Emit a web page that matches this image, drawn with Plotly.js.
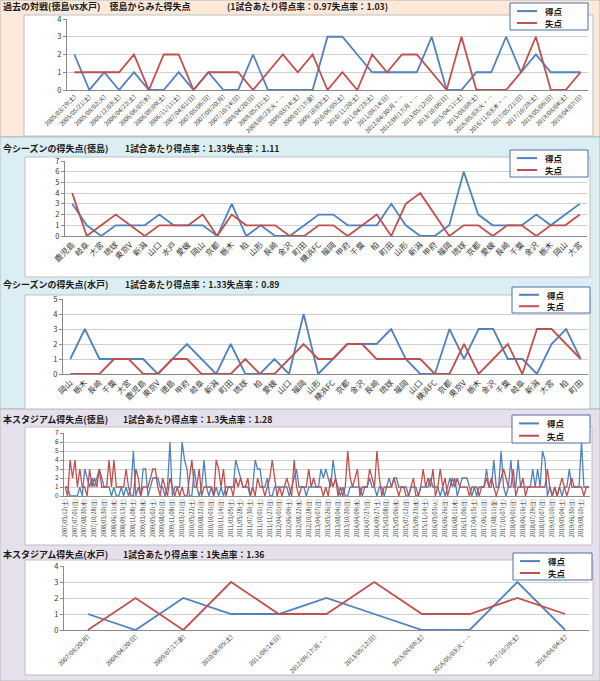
<!DOCTYPE html>
<html><head><meta charset="utf-8">
<script src="https://cdn.plot.ly/plotly-3.0.1.min.js"></script>
<style>html,body{margin:0;padding:0;background:#fff}#chart{width:600px;height:681px}</style>
</head><body><div id="chart"></div>
<script>
// ---------- Panel 1: 過去の対戦 (徳島 vs 水戸) ----------
const h2hDates = ["2005/03/19(土)","2005/05/21(土)","2005/08/02(火)","2005/12/03(土)","2006/04/22(土)","2006/06/07(水)","2006/09/09(土)","2006/11/11(土)","2007/04/01(日)","2007/05/06(日)","2007/08/20(月)","2007/10/14(日)","2008/04/20(日)","2008/05/31(土)","2008/09/23(火・…","2009/03/14(土)","2009/07/17(金)","2009/10/03(土)","2010/06/05(土)","2010/11/20(土)","2011/04/23(土)","2011/08/14(日)","2012/04/30(月・…","2012/09/17(月・…","2013/05/12(日)","2013/10/06(日)","2015/04/11(土)","2015/08/08(土)","2016/05/03(火・…","2016/11/03(木・…","2017/05/21(日)","2017/10/28(土)","2018/05/06(日)","2018/08/04(土)","2019/04/07(日)"];
const h2hScored    = [2,0,1,0,1,0,0,1,0,1,0,0,2,0,0,0,0,3,3,2,1,1,1,1,3,0,0,1,1,3,1,2,1,1,1];
const h2hConceded  = [1,1,1,1,2,0,2,2,0,1,1,1,0,1,2,1,2,0,1,0,2,1,2,2,1,0,3,0,0,0,1,3,0,0,1];

// ---------- Panel 2: 今シーズンの得失点 (徳島) ----------
const tokuTeams = ["鹿児島","岐阜","大宮","琉球","東京V","新潟","山口","水戸","愛媛","岡山","京都","栃木","柏","山形","長崎","金沢","町田","横浜FC","福岡","甲府","千葉","柏","町田","山形","新潟","甲府","福岡","琉球","京都","愛媛","長崎","千葉","金沢","栃木","岡山","大宮"];
const tokuScored   = [3,1,0,1,1,1,2,1,1,1,0,3,0,1,0,0,1,2,2,1,1,1,3,1,0,0,1,6,2,1,1,1,2,1,2,3];
const tokuConceded = [4,0,1,2,1,0,1,1,1,2,0,2,1,1,1,0,0,1,1,0,1,2,0,3,4,2,0,1,1,0,1,1,0,1,1,2];

// ---------- Panel 3: 今シーズンの得失点 (水戸) ----------
const mitoTeams = ["岡山","栃木","長崎","千葉","大宮","鹿児島","東京V","徳島","甲府","岐阜","新潟","町田","琉球","柏","愛媛","山口","福岡","山形","横浜FC","京都","金沢","長崎","琉球","福岡","山口","横浜FC","京都","東京V","栃木","金沢","千葉","岐阜","新潟","大宮","柏","町田"];
const mitoScored   = [1,3,1,1,1,1,0,1,2,1,0,2,0,0,1,0,4,0,1,2,2,2,3,1,0,0,3,1,3,3,1,1,0,2,3,1];
const mitoConceded = [0,0,0,1,1,0,0,1,1,0,0,0,1,0,0,1,2,1,1,2,2,1,1,1,1,0,0,2,0,1,2,0,3,3,2,1];

// ---------- Panel 4: 本スタジアム得失点 (徳島) ----------
const stadiumTickLabels = ["2007/05/12(土)","2007/07/01(日)","2007/08/30(木)","2007/10/28(日)","2008/03/30(日)","2008/06/11(水)","2008/09/13(土)","2008/11/08(土)","2009/03/18(水)","2009/05/02(土)","2009/08/02(日)","2009/11/08(日)","2010/03/21(日)","2010/05/22(土)","2010/08/22(日)","2010/10/03(日)","2010/11/14(日)","2011/03/05(土)","2011/05/28(土)","2011/07/30(土)","2011/10/01(土)","2011/11/27(日)","2012/04/01(日)","2012/06/09(土)","2012/08/22(水)","2012/10/28(日)","2013/04/07(日)","2013/05/26(日)","2013/08/04(日)","2013/10/20(日)","2014/04/09(水)","2014/07/27(日)","2014/09/27(土)","2015/03/08(日)","2015/05/06(水)","2015/07/12(日)","2015/09/23(水)","2015/11/14(土)","2016/05/03(火)","2016/06/26(日)","2016/08/11(木)","2016/11/06(日)","2017/04/15(土)","2017/06/11(日)","2017/08/11(金)","2017/10/07(土)","2018/04/01(日)","2018/06/16(土)","2018/07/29(日)","2018/10/07(日)","2019/03/10(日)","2019/05/04(土)","2019/06/30(日)","2019/08/10(土)"];
const stadiumScored = [
 1,1,0,0,0,0,1,0,3,2,1,2,1,2,3,2,1,1,1,0,1,0,0,1,
 0,1,0,1,5,0,1,0,3,3,0,1,2,2,2,1,1,0,1,6,0,1,1,1,
 6,4,3,0,0,3,1,0,1,4,1,0,1,0,1,0,1,0,1,1,1,1,4,3,
 2,1,1,1,0,1,4,3,3,1,1,2,0,0,1,1,1,1,1,1,0,1,2,3,
 1,1,1,0,1,1,1,1,1,3,2,3,2,1,4,2,1,0,1,0,0,1,1,1,
 1,1,0,1,1,2,1,1,0,1,1,0,1,2,1,2,2,1,1,1,1,0,1,1,
 1,0,1,1,1,1,2,1,1,1,0,1,0,1,2,1,2,0,1,2,2,2,1,0,
 1,0,1,1,1,3,1,1,4,1,1,5,1,0,1,4,1,1,4,1,1,1,1,1,
 3,1,3,1,5,4,0,1,0,1,0,1,0,1,1,3,1,1,1,1,6,1,1,1];
const stadiumConceded = [
 1,0,4,2,4,1,3,1,1,0,3,1,2,1,3,1,1,1,4,1,4,1,1,1,
 1,3,1,0,0,3,2,0,1,1,1,2,3,3,1,0,2,1,0,2,1,0,1,0,
 1,0,0,2,4,1,1,3,0,1,1,1,1,0,4,3,1,3,0,1,1,0,2,1,
 2,1,1,2,0,1,0,2,1,1,0,1,2,4,2,0,1,0,1,2,1,0,4,1,
 0,1,1,1,3,1,2,1,1,1,0,1,0,2,1,2,0,1,0,1,5,2,1,2,
 3,0,1,1,1,3,2,1,5,2,0,1,1,1,1,2,1,0,1,1,0,0,1,2,
 0,0,1,3,1,2,1,3,0,1,3,1,2,0,1,2,1,2,1,1,1,1,0,1,
 1,1,0,1,1,2,1,2,1,0,1,2,3,2,1,1,3,0,1,1,2,0,1,1,
 1,1,1,1,1,1,3,1,0,1,0,1,2,1,0,1,2,1,1,1,1,0,1,1];
const stadiumLabelEvery = 4;

// ---------- Panel 5: 本スタジアム得失点 (水戸) ----------
const mitoStadiumDates = ["2007/08/20(月)","2008/04/20(日)","2009/07/17(金)","2010/06/05(土)","2011/08/14(日)","2012/09/17(月・…","2013/05/12(日)","2015/08/08(土)","2016/05/03(火・…","2017/10/28(土)","2018/08/04(土)"];
const mitoStadiumScored   = [1,0,2,1,1,2,1,0,0,3,0];
const mitoStadiumConceded = [0,2,0,3,1,1,3,1,1,2,1];

const seriesNames = ["得点","失点"];
const titles = [
  ["過去の対戦(徳島vs水戸)　徳島からみた得失点", "(1試合あたり得点率：0.97失点率：1.03)"],
  ["今シーズンの得失点(徳島)", "1試合あたり得点率：1.33失点率：1.11"],
  ["今シーズンの得失点(水戸)", "1試合あたり得点率：1.33失点率：0.89"],
  ["本スタジアム得失点(徳島)", "1試合あたり得点率：1.3失点率：1.28"],
  ["本スタジアム得失点(水戸)", "1試合あたり得点率：1失点率：1.36"]
];

// ---------- Layout ----------
const W = 600, H = 681;
const FONT = '"Noto Sans CJK JP", "Noto Sans", sans-serif';
const BLUE = '#4F81BD', RED = '#C0504D';
const px = v => v / W, py = v => 1 - v / H;

const panels = [
  {labels: h2hDates, s: h2hScored, c: h2hConceded, plot:[67,588,19,90], ymax:4, angle:-45, tsize:6, ysize:7.5, every:1,
   chart:[24,15,593,136], title:[7,227], legend:[510,3,588,30]},
  {labels: tokuTeams, s: tokuScored, c: tokuConceded, plot:[65,587,161,236], ymax:7, angle:-45, tsize:8, ysize:7.5, every:1,
   chart:[25,157,590,277], title:[148,125], legend:[510,150,588,177]},
  {labels: mitoTeams, s: mitoScored, c: mitoConceded, plot:[63,588,299,374], ymax:5, angle:-45, tsize:8, ysize:7.5, every:1,
   chart:[25,295,590,409], title:[285,125], legend:[512,287,590,313]},
  {labels: stadiumTickLabels, s: stadiumScored, c: stadiumConceded, plot:[64,590,433,496], ymax:7, angle:-90, tsize:5.5, ysize:6.5, every:stadiumLabelEvery,
   chart:[25,427,592,545], title:[419,123], legend:[512,415,590,443]},
  {labels: mitoStadiumDates, s: mitoStadiumScored, c: mitoStadiumConceded, plot:[64,589,566,630], ymax:4, angle:-45, tsize:6, ysize:7.5, every:1,
   chart:[25,560,593,675], title:[554,123], legend:[513,553,592,580]}
];

const bands = [
  {y0:0, y1:137, color:'#FDE9D9'},
  {y0:137, y1:409, color:'#DAEEF3'},
  {y0:409, y1:681, color:'#E5E0EC'}
];

const traces = [];
const layout = {
  width: W, height: H, autosize: false,
  margin: {l:0, r:0, t:0, b:0},
  paper_bgcolor: '#ffffff', plot_bgcolor: '#ffffff',
  showlegend: false,
  font: {family: FONT, color: '#333'},
  shapes: [], annotations: []
};

bands.forEach(b => layout.shapes.push({type:'rect', xref:'paper', yref:'paper', layer:'below',
  x0:0, x1:1, y0:py(b.y1), y1:py(b.y0), fillcolor:b.color, line:{color:'#B7B7B7', width:1}}));

panels.forEach((p, k) => {
  const n = k + 1;
  const xa = n === 1 ? 'xaxis' : 'xaxis' + n;
  const ya = n === 1 ? 'yaxis' : 'yaxis' + n;
  const xr = n === 1 ? 'x' : 'x' + n;
  const yr = n === 1 ? 'y' : 'y' + n;
  const idx = p.s.map((_, i) => i);
  const tickvals = p.labels.map((_, j) => j * p.every);

  traces.push({type:'scatter', mode:'lines', name:seriesNames[0], x:idx, y:p.s, xaxis:xr, yaxis:yr,
    line:{color:BLUE, width: n === 4 ? 1.3 : 1.8}, hoverinfo:'skip'});
  traces.push({type:'scatter', mode:'lines', name:seriesNames[1], x:idx, y:p.c, xaxis:xr, yaxis:yr,
    line:{color:RED, width: n === 4 ? 1.3 : 1.8}, hoverinfo:'skip'});

  layout[xa] = {domain:[px(p.plot[0]), px(p.plot[1])], anchor:yr, range:[-0.5, p.s.length - 0.5],
    tickmode:'array', tickvals: tickvals, ticktext: p.labels, tickangle: p.angle,
    tickfont:{size:p.tsize, color:'#333', family:FONT}, showgrid:false, zeroline:false,
    showline:true, linecolor:'#8A8A8A', linewidth:1, ticks:'', fixedrange:true};
  layout[ya] = {domain:[py(p.plot[3]), py(p.plot[2])], anchor:xr, range:[0, p.ymax], dtick:1,
    tickfont:{size:p.ysize, color:'#333', family:FONT}, showgrid:true, gridcolor:'#CFCFCF', gridwidth:1,
    zeroline:false, showline:true, linecolor:'#8A8A8A', ticks:'outside', ticklen:3, tickcolor:'#8A8A8A', fixedrange:true};

  // chart object box
  layout.shapes.push({type:'rect', xref:'paper', yref:'paper', layer:'below',
    x0:px(p.chart[0]), x1:px(p.chart[2]), y0:py(p.chart[3]), y1:py(p.chart[1]),
    fillcolor:'#ffffff', line:{color:'#BFBFBF', width:1}});

  // titles
  layout.annotations.push({xref:'paper', yref:'paper', x:px(3), y:py(p.title[0]), xanchor:'left', yanchor:'middle',
    showarrow:false, borderpad:0, borderwidth:0, text:titles[k][0], font:{size:9, family:FONT, color:'#1a1a1a', weight:700}});
  layout.annotations.push({xref:'paper', yref:'paper', x:px(p.title[1]), y:py(p.title[0]), xanchor:'left', yanchor:'middle',
    showarrow:false, borderpad:0, borderwidth:0, text:titles[k][1], font:{size:8.7, family:FONT, color:'#1a1a1a', weight:700}});

  // legend box (drawn like the Excel legend)
  const L = p.legend;
  layout.shapes.push({type:'rect', xref:'paper', yref:'paper', layer:'above',
    x0:px(L[0]), x1:px(L[2]), y0:py(L[3]), y1:py(L[1]), fillcolor:'#ffffff', line:{color:'#4A6FA5', width:1}});
  const rowY = [L[1] + (L[3]-L[1]) * 0.3, L[1] + (L[3]-L[1]) * 0.74];
  [BLUE, RED].forEach((col, j) => {
    layout.shapes.push({type:'line', xref:'paper', yref:'paper', layer:'above',
      x0:px(L[0] + 7), x1:px(L[0] + 27), y0:py(rowY[j]), y1:py(rowY[j]), line:{color:col, width:2}});
    layout.annotations.push({xref:'paper', yref:'paper', x:px(L[0] + 35), y:py(rowY[j]), xanchor:'left', yanchor:'middle',
      showarrow:false, borderpad:0, borderwidth:0, text:seriesNames[j], font:{size:8.5, family:FONT, color:'#1a1a1a', weight:700}});
  });
});

Plotly.newPlot('chart', traces, layout, {staticPlot:true, displayModeBar:false});
</script></body></html>
